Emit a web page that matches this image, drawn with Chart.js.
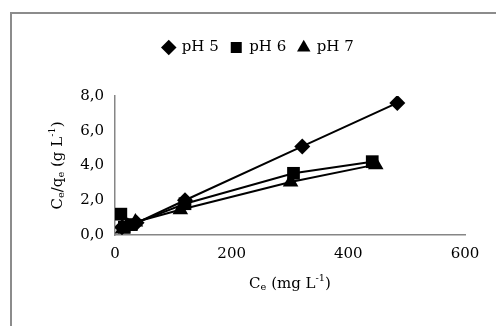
<!DOCTYPE html>
<html>
<head>
<meta charset="utf-8">
<script src="https://cdn.jsdelivr.net/npm/chart.js@4/dist/chart.umd.min.js"></script>
<style>
  html, body { margin: 0; padding: 0; background: #fff; overflow: hidden; }
  #chart { display: block; }
</style>
</head>
<body>
<canvas id="chart" width="496" height="326"></canvas>
<script>
// valores
const seriesNames = ['pH 5', 'pH 6', 'pH 7'];
const pH5x = [12, 37, 120, 321, 484];
const pH5y = [0.45, 0.7, 2.0, 5.1, 7.6];
const pH6x = [10, 16, 28, 120, 306, 441];
const pH6y = [1.2, 0.45, 0.6, 1.8, 3.55, 4.22];
const pH7x = [13, 22, 35, 112, 301, 447];
const pH7y = [0.35, 0.5, 0.75, 1.45, 3.05, 4.05];
const xTicks = [0, 200, 400, 600];
const yTicks = [0, 2, 4, 6, 8];

const fontFam = '"DejaVu Serif", serif';
const axisGray = '#868686';

function pts(xs, ys) {
  return xs.map((x, i) => ({ x: x, y: ys[i] }));
}

// desenha títulos dos eixos com subscrito/sobrescrito
function drawRich(ctx, parts, size) {
  let total = 0;
  parts.forEach(p => {
    ctx.font = (p.sub || p.sup ? size * 0.65 : size) + 'px ' + fontFam;
    p.w = ctx.measureText(p.t).width;
    total += p.w;
  });
  let x = -total / 2;
  parts.forEach(p => {
    ctx.font = (p.sub || p.sup ? size * 0.65 : size) + 'px ' + fontFam;
    let dy = 0;
    if (p.sub) dy = size * 0.25;
    if (p.sup) dy = -size * 0.35;
    ctx.fillText(p.t, x, dy);
    x += p.w;
  });
}

const axisTitles = {
  id: 'axisTitles',
  beforeInit(chart) {
    const orig = chart.legend.fit;
    chart.legend.fit = function () {
      orig.bind(chart.legend)();
      this.height += 31;
    };
  },
  beforeDraw(chart) {
    // moldura (só esquerda e topo ficam visíveis)
    const ctx = chart.ctx;
    ctx.save();
    ctx.strokeStyle = '#8c8c8c';
    ctx.lineWidth = 2;
    ctx.beginPath();
    ctx.moveTo(11, chart.height);
    ctx.lineTo(11, 13);
    ctx.lineTo(chart.width, 13);
    ctx.stroke();
    ctx.restore();
  },
  afterDraw(chart) {
    const ctx = chart.ctx;
    const a = chart.chartArea;
    ctx.save();
    ctx.fillStyle = '#000';
    ctx.textBaseline = 'middle';
    ctx.textAlign = 'left';
    // eixo x
    ctx.save();
    ctx.translate((a.left + a.right) / 2, 284);
    drawRich(ctx, [{ t: 'C' }, { t: 'e', sub: true }, { t: ' (mg L' }, { t: '-1', sup: true }, { t: ')' }], 15);
    ctx.restore();
    // eixo y
    ctx.save();
    ctx.translate(58, (a.top + a.bottom) / 2);
    ctx.rotate(-Math.PI / 2);
    drawRich(ctx, [{ t: 'C' }, { t: 'e', sub: true }, { t: '/q' }, { t: 'e', sub: true }, { t: ' (g L' }, { t: '-1', sup: true }, { t: ')' }], 15);
    ctx.restore();
    ctx.restore();
  }
};

const styles = ['rectRot', 'rect', 'triangle'];
const radii = [8, 9, 9];
const allData = [pts(pH5x, pH5y), pts(pH6x, pH6y), pts(pH7x, pH7y)];

new Chart(document.getElementById('chart'), {
  type: 'scatter',
  data: {
    datasets: seriesNames.map((name, i) => ({
      label: name,
      data: allData[i],
      showLine: true,
      borderColor: '#000',
      backgroundColor: '#000',
      borderWidth: 2,
      pointStyle: styles[i],
      pointRadius: radii[i],
      pointBorderWidth: 0,
      pointHoverRadius: radii[i]
    }))
  },
  options: {
    responsive: false,
    animation: false,
    layout: { padding: { left: 52, right: 31, top: 28, bottom: 58 } },
    plugins: {
      tooltip: { enabled: false },
      legend: {
        position: 'top',
        labels: {
          usePointStyle: true,
          boxWidth: 11,
          boxHeight: 11,
          padding: 12,
          color: '#000',
          font: { family: fontFam, size: 15 }
        }
      }
    },
    scales: {
      x: {
        type: 'linear',
        min: 0,
        max: 600,
        afterBuildTicks: s => { s.ticks = xTicks.map(v => ({ value: v })); },
        ticks: { color: '#000', font: { family: fontFam, size: 15 }, padding: 5, maxRotation: 0 },
        grid: { display: false, drawTicks: true, tickLength: 5, tickColor: axisGray },
        border: { color: axisGray, width: 1.5 }
      },
      y: {
        type: 'linear',
        min: 0,
        max: 8,
        afterBuildTicks: s => { s.ticks = yTicks.map(v => ({ value: v })); },
        afterFit: s => { s.width = 63; },
        ticks: {
          color: '#000',
          font: { family: fontFam, size: 15 },
          padding: 6,
          callback: v => v.toFixed(1).replace('.', ',')
        },
        grid: { display: false, drawTicks: true, tickLength: 5, tickColor: axisGray },
        border: { color: axisGray, width: 1.5 }
      }
    }
  },
  plugins: [axisTitles]
});
</script>
</body>
</html>
